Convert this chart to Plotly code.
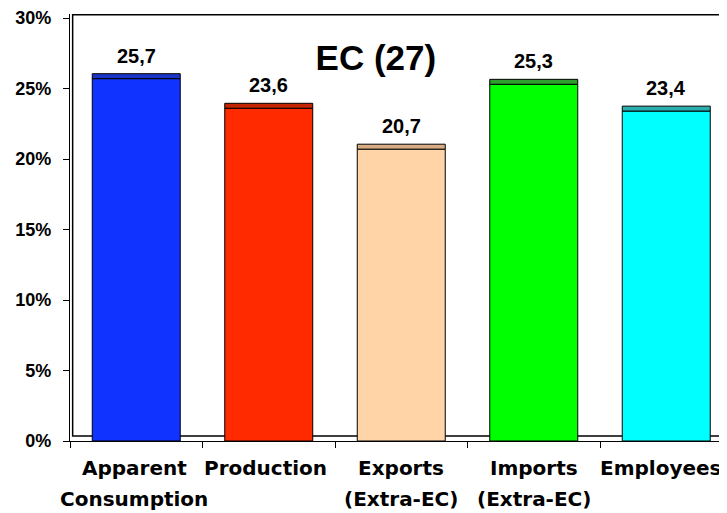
import plotly.graph_objects as go

categories = ["Apparent<br>Consumption", "Production", "Exports<br>(Extra-EC)",
              "Imports<br>(Extra-EC)", "Employees"]
values = [25.7, 23.6, 20.7, 25.3, 23.4]
bar_colors = ["#1033FF", "#FF2A00", "#FFD5A8", "#00FF00", "#00FFFF"]
top_colors = ["#1A36C8", "#C42400", "#D8AC84", "#2E9E2E", "#2AAFAF"]
y_ticks = [0, 5, 10, 15, 20, 25, 30]
y_tick_labels = ["0%", "5%", "10%", "15%", "20%", "25%", "30%"]
title_text = "EC (27)"

DEPTH = 0.35   # 3D depth of floor / bar tops (y units)
DX = 0.02      # 3D offset of back wall (x units)
LABEL_XSHIFT = [-2, -3, 0, 0, -6]
FONT = "Liberation Sans, Arial, sans-serif"
CAT_FONT = "DejaVu Sans, sans-serif"

fig = go.Figure()
fig.add_trace(go.Bar(
    x=categories, y=values, marker=dict(color=bar_colors, line=dict(color="black", width=1)),
    width=0.664, hoverinfo="skip", showlegend=False))
fig.add_trace(go.Bar(
    x=categories, y=[DEPTH] * len(values), base=values,
    marker=dict(color=top_colors, line=dict(color="black", width=1)),
    width=0.664, hoverinfo="skip", showlegend=False))

labels = [f"{v:.1f}".replace(".", ",") for v in values]
for c, v, t in zip(categories, values, labels):
    fig.add_annotation(x=c, y=v + DEPTH, text=t, showarrow=False, yanchor="bottom",
                       yshift=5, font=dict(family=FONT, size=20, color="black", weight="bold"))

# category labels (two lines with wider line spacing)
for c, dx in zip(categories, LABEL_XSHIFT):
    for i, line in enumerate(c.split("<br>")):
        fig.add_annotation(x=c, xref="x", y=0, yref="paper", text=line, showarrow=False,
                           yanchor="top", yshift=-13 - 31 * i, xshift=dx,
                           font=dict(family=CAT_FONT, size=20, color="black", weight="bold"))

k = 14.1
ml, mr, mt, mb = 62, 8, 6, 80
y_top = (513 - mt - mb) / k
plot_w = 727 - ml - mr

# back wall (3D frame)
fig.add_shape(type="rect", xref="x", yref="y", x0=-0.5 + DX, x1=5.0, y0=DEPTH, y1=y_top - 0.06,
              line=dict(color="black", width=1.5), fillcolor="rgba(0,0,0,0)", layer="below")

fig.update_layout(
    width=727, height=513,
    margin=dict(l=ml, r=mr, t=mt, b=mb, autoexpand=False),
    paper_bgcolor="white", plot_bgcolor="white",
    barmode="overlay", bargap=0.336,
    title=dict(text=title_text, x=0.506, xanchor="center", y=0.9035, yanchor="middle",
               xref="container", yref="container",
               font=dict(family=FONT, size=35, color="black", weight="bold")),
    xaxis=dict(type="category", range=[-0.5, -0.5 + plot_w / 132.5],
               showline=True, linecolor="black", linewidth=1.4,
               ticks="outside", ticklen=6, tickcolor="black", tickwidth=1,
               tickson="boundaries", showgrid=False, showticklabels=False,
               automargin=False),
    yaxis=dict(range=[0, y_top], tickvals=y_ticks, ticktext=y_tick_labels,
               showline=True, linecolor="black", linewidth=1.4,
               ticks="outside", ticklen=6, tickcolor="black", tickwidth=1,
               showgrid=False, zeroline=False, ticklabelstandoff=8, automargin=False,
               ticklabeloverflow="allow",
               tickfont=dict(family=FONT, size=18, color="black", weight="bold")),
    hovermode=False,
)
fig.write_html("out.html")
